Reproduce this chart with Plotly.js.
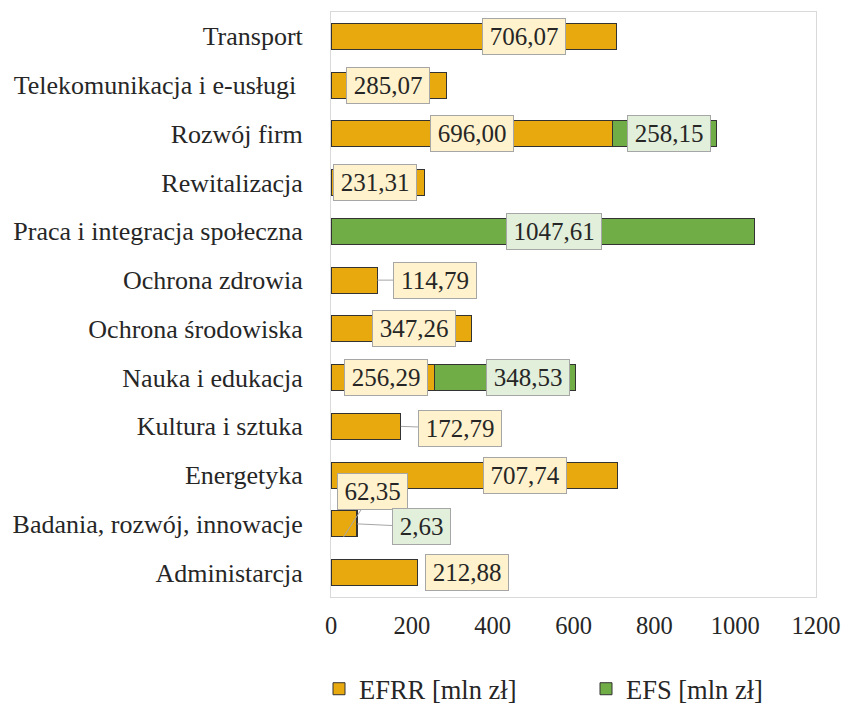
<!DOCTYPE html>
<html>
<head>
<meta charset="utf-8">
<script src="https://cdn.plot.ly/plotly-3.0.1.min.js"></script>
<style>html,body{margin:0;padding:0;background:#fff;}#chart{width:868px;height:704px;}</style>
</head>
<body>
<div id="chart"></div>
<script>
// Categories, listed top to bottom
const categories = [
  "Transport",
  "Telekomunikacja i e-usługi\u00a0",
  "Rozwój firm",
  "Rewitalizacja",
  "Praca i integracja społeczna",
  "Ochrona zdrowia",
  "Ochrona środowiska",
  "Nauka i edukacja",
  "Kultura i sztuka",
  "Energetyka",
  "Badania, rozwój, innowacje",
  "Administarcja"
];
const efrr = [706.07, 285.07, 696.00, 231.31, null, 114.79, 347.26, 256.29, 172.79, 707.74, 62.35, 212.88];
const efs  = [null,   null,   258.15, null,   1047.61, null, null,  348.53, null,   null,   2.63,  null];
const seriesNames = ["EFRR [mln zł]", "EFS [mln zł]"];
const xTicks = [0, 200, 400, 600, 800, 1000, 1200];

// Label placement (data-unit centre of each label box, as in the reference)
const efrrLabelX = [477, 141, 348, 109, null, null, 206, 135, null, 480, null, 336];
const efsLabelX  = [null, null, 836, null, 552, null, null, 488, null, null, null, null];
// Labels attached by a leader line
const leaderLabels = [
  {i: 5,  s: "efrr", ax: 58,  ay: 0,   tip: "end"},
  {i: 8,  s: "efrr", ax: 59,  ay: 2,   tip: "end"},
  {i: 10, s: "efrr", ax: 29,  ay: -45, tip: "mid", yshift: -13},
  {i: 10, s: "efs",  ax: 64,  ay: 3,   tip: "end"}
];

const ORANGE = "#E8A90F", GREEN = "#70AD47";
const LBL_ORANGE = "#FFF2CC", LBL_GREEN = "#E2EFDA";
const FONT = "Liberation Serif";
const TXT = "#262626";
const LBL_SIZE = 25;

const fmt = v => v.toFixed(2).replace(".", ",");
// approximate text width for a Times-metric number label
const textW = s => [...s].reduce((w, ch) => w + (ch === "," ? 0.25 : 0.5) * LBL_SIZE, 0);

const traces = [
  {type: "bar", orientation: "h", name: seriesNames[0], y: categories, x: efrr, legend: "legend",
   marker: {color: ORANGE, line: {color: "#333333", width: 1}}, width: 0.53},
  {type: "bar", orientation: "h", name: seriesNames[1], y: categories, x: efs, legend: "legend2",
   marker: {color: GREEN, line: {color: "#333333", width: 1}}, width: 0.53}
];

const boxStyle = (bg, text) => ({
  showarrow: false, bgcolor: bg, bordercolor: "#A6A6A6", borderwidth: 1, borderpad: 3,
  width: Math.round(textW(text) + 7), height: 29, text: text,
  font: {family: FONT, size: LBL_SIZE, color: TXT}, xref: "x", yref: "y"
});

const annotations = [];
categories.forEach((c, i) => {
  if (efrrLabelX[i] != null && efrr[i] != null) {
    annotations.push(Object.assign(boxStyle(LBL_ORANGE, fmt(efrr[i])), {x: efrrLabelX[i], y: c}));
  }
  if (efsLabelX[i] != null && efs[i] != null) {
    annotations.push(Object.assign(boxStyle(LBL_GREEN, fmt(efs[i])), {x: efsLabelX[i], y: c}));
  }
});
leaderLabels.forEach(L => {
  const base = L.s === "efrr" ? 0 : (efrr[L.i] || 0);
  const val = L.s === "efrr" ? efrr[L.i] : efs[L.i];
  const tipX = L.tip === "end" ? base + val : base + val / 2;
  const a = Object.assign(boxStyle(L.s === "efrr" ? LBL_ORANGE : LBL_GREEN, fmt(val)), {
    x: tipX, y: categories[L.i],
    showarrow: true, arrowhead: 0, arrowwidth: 1, arrowcolor: "#A6A6A6",
    axref: "pixel", ayref: "pixel", ax: L.ax, ay: L.ay, standoff: 0, startstandoff: 0
  });
  if (L.yshift) a.yshift = L.yshift;
  annotations.push(a);
});

const legendStyle = (xpx) => ({
  orientation: "h", xref: "container", yref: "container", x: xpx / 868, y: 15 / 704,
  xanchor: "left", yanchor: "middle",
  font: {family: FONT, size: 26.5, color: TXT}, bgcolor: "rgba(0,0,0,0)"
});

const layout = {
  width: 868, height: 704,
  margin: {l: 331, r: 52, t: 12, b: 107},
  paper_bgcolor: "#fff", plot_bgcolor: "#fff",
  barmode: "stack",
  font: {family: FONT, color: TXT},
  xaxis: {
    range: [0, 1200], tickvals: xTicks, ticktext: xTicks.map(String),
    showgrid: false, zeroline: false, showline: true, mirror: true, linecolor: "#D9D9D9", linewidth: 1,
    ticks: "", ticklabelstandoff: 7, tickfont: {family: FONT, size: 24.5, color: TXT}, fixedrange: true
  },
  yaxis: {
    autorange: "reversed", type: "category",
    showgrid: false, zeroline: false, showline: true, mirror: true, linecolor: "#D9D9D9", linewidth: 1,
    ticks: "", ticklabelstandoff: 22, tickfont: {family: FONT, size: 26, color: TXT}, fixedrange: true
  },
  showlegend: true,
  legend: legendStyle(319),
  legend2: legendStyle(586),
  annotations: annotations
};

Plotly.newPlot("chart", traces, layout, {displayModeBar: false, staticPlot: true});
</script>
</body>
</html>
